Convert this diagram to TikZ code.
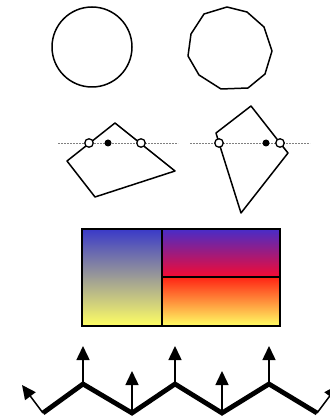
\documentclass[tikz,border=0pt]{standalone}
\usepackage{tikz}
\usetikzlibrary{arrows.meta, calc}

\definecolor{topblue}{RGB}{58,58,200}
\definecolor{softyellow}{RGB}{255,255,100}
\definecolor{violetblue}{RGB}{72,44,200}
\definecolor{hotred}{RGB}{245,10,50}
\definecolor{orangered}{RGB}{255,36,20}

\begin{document}
\begin{tikzpicture}[x=1pt, y=-1pt,
      outline/.style={draw, line width=1.5pt, line join=round},
      cutline/.style={draw=gray, line width=0.7pt, dash pattern=on 2pt off 1pt},
      ring/.style={circle, draw, fill=white, line width=1.3pt, inner sep=0pt, minimum size=8.5pt},
      dot/.style={circle, fill=black, inner sep=0pt, minimum size=7pt},
      cell/.style={draw, line width=2pt},
      chain/.style={line width=4.8pt, line join=miter},
      normal/.style={line width=1.5pt, -{Triangle[length=14pt, width=13pt]}},
    ]
      \useasboundingbox (0,0) rectangle (329,419);

      % top row
      \draw[outline] (92,47) circle (40pt);
      \draw[outline] (227,7) -- (247,12) -- (264,27) -- (272,51) -- (265,74) -- (248,88)
        -- (221,89) -- (199,75) -- (188,56) -- (191,34) -- (204,14) -- cycle;

      % second row
      \draw[cutline] (58,143) -- (178,143);
      \draw[cutline] (190,143) -- (310,143);
      \draw[outline] (115,123) -- (175,171) -- (95,197) -- (67,161) -- cycle;
      \draw[outline] (216,133) -- (251,106) -- (280,143) -- (288,153) -- (241,213) -- (219,143) -- cycle;
      \node[ring] (l-in) at (89,143) {};
      \node[ring] (l-out) at (141,143) {};
      \node[dot] (l-mid) at (108,143) {};
      \node[ring] (r-in) at (219,143) {};
      \node[ring] (r-out) at (280,143) {};
      \node[dot] (r-mid) at (266,143) {};

      % gradients
      \shade[top color=topblue, bottom color=softyellow] (82,229) rectangle (162,326);
      \shade[top color=violetblue, bottom color=hotred] (162,229) rectangle (280,277);
      \shade[top color=orangered, bottom color=softyellow] (162,277) rectangle (280,326);
      \draw[cell] (82,229) rectangle (280,326);
      \draw[cell] (162,229) -- (162,326);
      \draw[cell] (162,277) -- (280,277);

      % polyline with normals
      \coordinate (p0) at (43,413);
      \coordinate (p1) at (83,384);
      \coordinate (p2) at (132,413);
      \coordinate (p3) at (175,384);
      \coordinate (p4) at (222,413);
      \coordinate (p5) at (269,384);
      \coordinate (p6) at (317,413);
      \coordinate (n0) at (22,385);
      \coordinate (n1) at (83,346);
      \coordinate (n2) at (132,371);
      \coordinate (n3) at (175,346);
      \coordinate (n4) at (222,371);
      \coordinate (n5) at (269,346);
      \coordinate (n6) at (338,385);
      \draw[chain] (p0) -- (p1) -- (p2) -- (p3) -- (p4) -- (p5) -- (p6);
      \foreach \i in {0,...,6}
        \draw[normal] (p\i) -- (n\i);
    \end{tikzpicture}
\end{document}
